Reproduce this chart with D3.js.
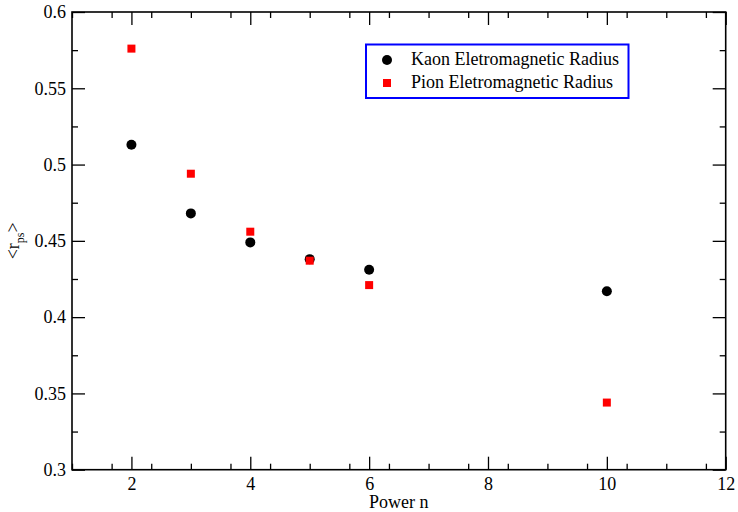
<!DOCTYPE html>
<html>
<head>
<meta charset="utf-8">
<script src="https://cdn.jsdelivr.net/npm/d3@7"></script>
<style>
  body { margin: 0; background: #fff; }
  svg, svg text { font-family: "Liberation Serif", "Times New Roman", serif; }
</style>
</head>
<body>
<svg id="chart" width="738" height="512"></svg>
<script>
const powers = [2, 3, 4, 5, 6, 10];
const kaonRadius = [0.513, 0.468, 0.449, 0.438, 0.431, 0.417];
const pionRadius = [0.576, 0.494, 0.456, 0.437, 0.421, 0.344];
const xTicks = [2, 4, 6, 8, 10, 12];
const yTicks = [0.3, 0.35, 0.4, 0.45, 0.5, 0.55, 0.6];
const seriesNames = ["Kaon Eletromagnetic Radius", "Pion Eletromagnetic Radius"];

const width = 738, height = 512;
const margin = {left: 72, top: 12, right: 12.3, bottom: 42.3};
const svg = d3.select('#chart');
const serifFont = '"Liberation Serif", "Times New Roman", serif';

const x = d3.scaleLinear().domain([1, 12]).range([margin.left, width - margin.right]);
const y = d3.scaleLinear().domain([0.3, 0.6]).range([height - margin.bottom, margin.top]);

const xMinor = d3.range(1, 12.01, 2 / 3).filter(v => !xTicks.includes(Math.round(v * 1000) / 1000));
const yMinor = d3.range(0.325, 0.6, 0.05);

const fmt = d => String(+d.toFixed(2));
const labelStyle = g => g.attr("font-family", null)
    .selectAll(".tick text")
    .style("font-family", serifFont)
    .style("font-size", "18px")
    .attr("fill", "#000");

// bottom axis
svg.append("g")
    .attr("transform", `translate(0,${y(0.3)})`)
    .call(d3.axisBottom(x).tickValues(xTicks).tickSize(-13).tickPadding(7.5).tickFormat(d3.format("d")))
    .call(labelStyle);
svg.append("g")
    .attr("transform", `translate(0,${y(0.3)})`)
    .call(d3.axisBottom(x).tickValues(xMinor).tickSize(-6).tickFormat(""));

// top axis
svg.append("g")
    .attr("transform", `translate(0,${y(0.6)})`)
    .call(d3.axisTop(x).tickValues(xTicks).tickSize(-13).tickFormat(""));
svg.append("g")
    .attr("transform", `translate(0,${y(0.6)})`)
    .call(d3.axisTop(x).tickValues(xMinor).tickSize(-6).tickFormat(""));

// left axis
svg.append("g")
    .attr("transform", `translate(${x(1)},0)`)
    .call(d3.axisLeft(y).tickValues(yTicks).tickSize(-13).tickPadding(6).tickFormat(fmt))
    .call(labelStyle);
svg.append("g")
    .attr("transform", `translate(${x(1)},0)`)
    .call(d3.axisLeft(y).tickValues(yMinor).tickSize(-6).tickFormat(""));

// right axis
svg.append("g")
    .attr("transform", `translate(${x(12)},0)`)
    .call(d3.axisRight(y).tickValues(yTicks).tickSize(-13).tickFormat(""));
svg.append("g")
    .attr("transform", `translate(${x(12)},0)`)
    .call(d3.axisRight(y).tickValues(yMinor).tickSize(-6).tickFormat(""));

svg.selectAll(".domain").remove();
svg.selectAll(".tick line").attr("stroke", "#000").attr("stroke-width", 1.3);

svg.append("rect")
    .attr("x", x(1)).attr("y", y(0.6))
    .attr("width", x(12) - x(1)).attr("height", y(0.3) - y(0.6))
    .attr("fill", "none").attr("stroke", "#000").attr("stroke-width", 1.6);

// points
const pts = powers.map((p, i) => ({p, k: kaonRadius[i], pi: pionRadius[i]}));
svg.append("g").selectAll("circle")
  .data(pts).join("circle")
    .attr("cx", d => x(d.p)).attr("cy", d => y(d.k))
    .attr("r", 5).attr("fill", "#000");
svg.append("g").selectAll("rect")
  .data(pts).join("rect")
    .attr("x", d => x(d.p) - 4).attr("y", d => y(d.pi) - 4)
    .attr("width", 8).attr("height", 8).attr("fill", "#ff0000");

// axis labels
svg.append("text")
    .attr("x", (x(1) + x(12)) / 2).attr("y", 508)
    .attr("text-anchor", "middle").style("font-size", "18px")
    .text("Power n");

const yl = svg.append("text")
    .attr("transform", `translate(19,${y(0.45)}) rotate(-90)`)
    .attr("text-anchor", "middle").style("font-size", "18px");
yl.append("tspan").text("<r");
yl.append("tspan").style("font-size", "12px").attr("dy", 5).text("ps");
yl.append("tspan").attr("dy", -5).text(">");

// legend
const leg = svg.append("g");
leg.append("rect")
    .attr("x", 366).attr("y", 44.5).attr("width", 262.5).attr("height", 53.5)
    .attr("fill", "#fff").attr("stroke", "#0000ff").attr("stroke-width", 2);
leg.append("circle").attr("cx", 387).attr("cy", 60).attr("r", 5).attr("fill", "#000");
leg.append("rect").attr("x", 383).attr("y", 79).attr("width", 8).attr("height", 8).attr("fill", "#ff0000");
leg.selectAll("text.lbl")
  .data(seriesNames).join("text")
    .attr("class", "lbl")
    .attr("x", 411).attr("y", (d, i) => 65 + i * 23)
    .style("font-size", "18px")
    .text(d => d);
</script>
</body>
</html>
